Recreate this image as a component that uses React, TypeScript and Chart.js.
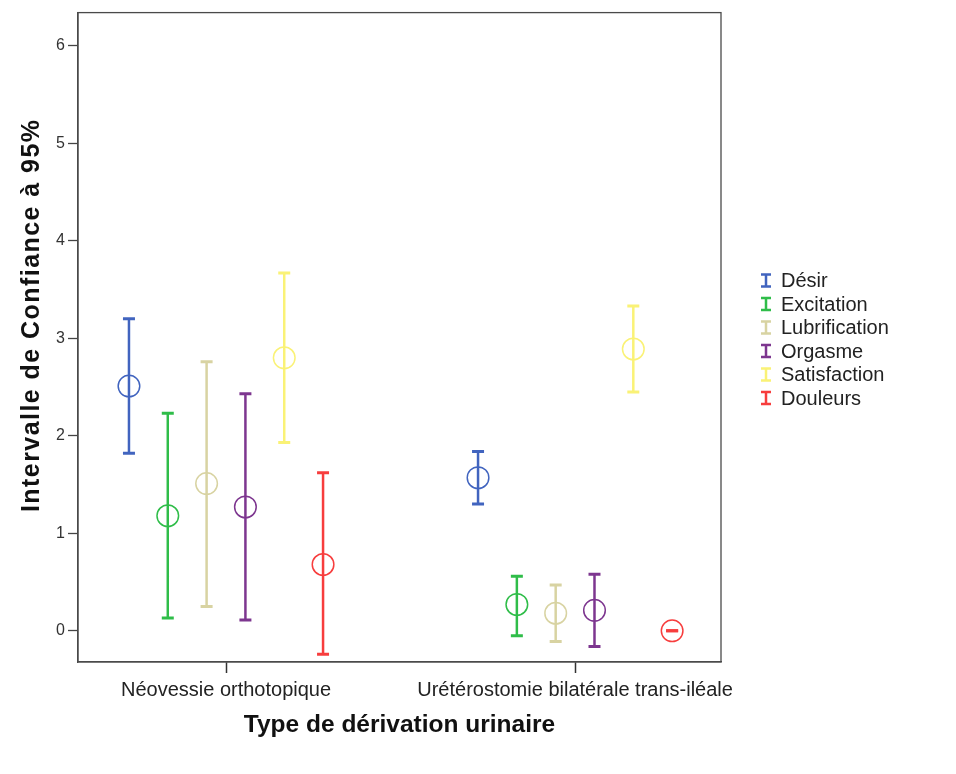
import React, { useEffect, useRef } from "react";
import { Chart, registerables } from "chart.js";

Chart.register(...registerables);

// ---- Data ----
const categories = ["Néovessie orthotopique", "Urétérostomie bilatérale trans-iléale"];
const seriesNames = ["Désir", "Excitation", "Lubrification", "Orgasme", "Satisfaction", "Douleurs"];
const seriesColors = ["#4164bf", "#2fbd49", "#d8d3a2", "#7d368f", "#faf276", "#f73d3d"];

const meanDesir = [2.51, 1.57];
const lowDesir = [1.82, 1.3];
const highDesir = [3.2, 1.84];

const meanExcitation = [1.18, 0.27];
const lowExcitation = [0.13, -0.05];
const highExcitation = [2.23, 0.56];

const meanLubrification = [1.51, 0.18];
const lowLubrification = [0.25, -0.11];
const highLubrification = [2.76, 0.47];

const meanOrgasme = [1.27, 0.21];
const lowOrgasme = [0.11, -0.16];
const highOrgasme = [2.43, 0.58];

const meanSatisfaction = [2.8, 2.89];
const lowSatisfaction = [1.93, 2.45];
const highSatisfaction = [3.67, 3.33];

const meanDouleurs = [0.68, 0.0];
const lowDouleurs = [-0.24, 0.0];
const highDouleurs = [1.62, 0.0];

const yTicks = [0, 1, 2, 3, 4, 5, 6];

const yAxisTitle = "Intervalle de Confiance à 95%";
const xAxisTitle = "Type de dérivation urinaire";

const FONT = "'Liberation Sans', Arial, Helvetica, sans-serif";

export default function App() {
  const ref = useRef<HTMLCanvasElement | null>(null);

  useEffect(() => {
    const canvas = ref.current;
    if (!canvas) return;

    const means = [meanDesir, meanExcitation, meanLubrification, meanOrgasme, meanSatisfaction, meanDouleurs];
    const lows = [lowDesir, lowExcitation, lowLubrification, lowOrgasme, lowSatisfaction, lowDouleurs];
    const highs = [highDesir, highExcitation, highLubrification, highOrgasme, highSatisfaction, highDouleurs];

    const spacing = 0.1112;
    const datasets: any[] = [];
    seriesNames.forEach((name, s) => {
      const color = seriesColors[s];
      const off = (s - (seriesNames.length - 1) / 2) * spacing;
      const whisker: any[] = [];
      categories.forEach((_, c) => {
        const x = c + 1 + off;
        if (c > 0) whisker.push({ x, y: null });
        whisker.push({ x, y: lows[s][c] });
        whisker.push({ x, y: highs[s][c] });
      });
      datasets.push({
        type: "line",
        label: name + " IC",
        data: whisker,
        borderColor: color,
        backgroundColor: color,
        borderWidth: 2.5,
        pointStyle: "line",
        pointRadius: 6,
        pointHoverRadius: 6,
        pointBorderWidth: 3,
        fill: false,
        spanGaps: false,
        showLine: true,
        tension: 0,
      });
      datasets.push({
        type: "scatter",
        label: name,
        data: categories.map((_, c) => ({ x: c + 1 + off, y: means[s][c] })),
        borderColor: color,
        backgroundColor: "rgba(0,0,0,0)",
        pointRadius: 10.8,
        pointHoverRadius: 10.8,
        pointBorderWidth: 1.5,
      });
    });

    const boxPlugin = {
      id: "frameBox",
      afterDatasetsDraw(chart: any) {
        const { ctx, chartArea } = chart;
        ctx.save();
        ctx.strokeStyle = "#4a4a4a";
        ctx.lineWidth = 1.3;
        ctx.strokeRect(chartArea.left, chartArea.top, chartArea.right - chartArea.left, chartArea.bottom - chartArea.top);
        ctx.restore();
      },
    };

    const yTitlePlugin = {
      id: "yTitle",
      afterDraw(chart: any) {
        const { ctx, chartArea } = chart;
        ctx.save();
        ctx.translate(32, (chartArea.top + chartArea.bottom) / 2 - 22);
        ctx.rotate(-Math.PI / 2);
        ctx.font = `bold 25px ${FONT}`;
        try {
          (ctx as any).letterSpacing = "1.45px";
        } catch (e) {}
        ctx.fillStyle = "#111";
        ctx.textAlign = "center";
        ctx.textBaseline = "middle";
        ctx.fillText(yAxisTitle, 0, 0);
        ctx.restore();
      },
    };

    const legendPlugin = {
      id: "ciLegend",
      afterDraw(chart: any) {
        const { ctx, chartArea } = chart;
        ctx.save();
        const cx = chartArea.right + 45;
        const mid = (chartArea.top + chartArea.bottom) / 2 + 2;
        const step = 23.5;
        seriesNames.forEach((name, i) => {
          const y = mid + (i - (seriesNames.length - 1) / 2) * step;
          ctx.strokeStyle = seriesColors[i];
          ctx.lineWidth = 2.5;
          ctx.beginPath();
          ctx.moveTo(cx, y - 6);
          ctx.lineTo(cx, y + 6);
          ctx.moveTo(cx - 5, y - 6);
          ctx.lineTo(cx + 5, y - 6);
          ctx.moveTo(cx - 5, y + 6);
          ctx.lineTo(cx + 5, y + 6);
          ctx.stroke();
          ctx.fillStyle = "#222";
          ctx.font = `20px ${FONT}`;
          ctx.textAlign = "left";
          ctx.textBaseline = "middle";
          ctx.fillText(name, cx + 15, y + 1);
        });
        ctx.restore();
      },
    };

    const chart = new Chart(canvas, {
      type: "scatter",
      data: { datasets },
      plugins: [boxPlugin, yTitlePlugin, legendPlugin],
      options: {
        animation: false,
        responsive: false,
        devicePixelRatio: 1,
        layout: { padding: { left: 0, top: 10, right: 235, bottom: 0 } },
        plugins: {
          legend: { display: false },
          tooltip: { enabled: false },
        },
        scales: {
          x: {
            type: "linear",
            min: 0.576,
            max: 2.418,
            afterBuildTicks: (scale: any) => {
              scale.ticks = categories.map((_, i) => ({ value: i + 1 }));
            },
            afterFit: (scale: any) => {
              scale.height = 112;
            },
            ticks: {
              autoSkip: false,
              maxRotation: 0,
              minRotation: 0,
              padding: 5,
              color: "#222",
              font: { family: FONT, size: 20 },
              callback: (_v: any, i: number) => categories[i],
            },
            grid: {
              display: true,
              drawOnChartArea: false,
              drawTicks: true,
              tickLength: 11,
              tickWidth: 1.5,
              tickColor: "#333",
            },
            border: { display: true, color: "#4a4a4a", width: 1.3 },
            title: {
              display: true,
              text: xAxisTitle,
              color: "#111",
              font: { family: FONT, size: 24.5, weight: "bold" },
              padding: { top: 0, bottom: 34 },
            },
          },
          y: {
            type: "linear",
            min: -0.32,
            max: 6.34,
            afterBuildTicks: (scale: any) => {
              scale.ticks = yTicks.map((v) => ({ value: v }));
            },
            afterFit: (scale: any) => {
              scale.width = 78;
            },
            ticks: {
              padding: 3,
              color: "#333",
              font: { family: FONT, size: 16 },
              callback: (v: any) => String(v),
            },
            grid: {
              display: true,
              drawOnChartArea: false,
              drawTicks: true,
              tickLength: 10,
              tickWidth: 1.3,
              tickColor: "#444",
            },
            border: { display: true, color: "#4a4a4a", width: 1.3 },
            title: { display: false },
          },
        },
      } as any,
    });

    return () => {
      chart.destroy();
    };
  }, []);

  return (
    <div style={{ position: "fixed", left: 0, top: 0, width: 956, height: 774, background: "#fff" }}>
      <canvas ref={ref} width={956} height={774} style={{ display: "block" }} />
    </div>
  );
}
